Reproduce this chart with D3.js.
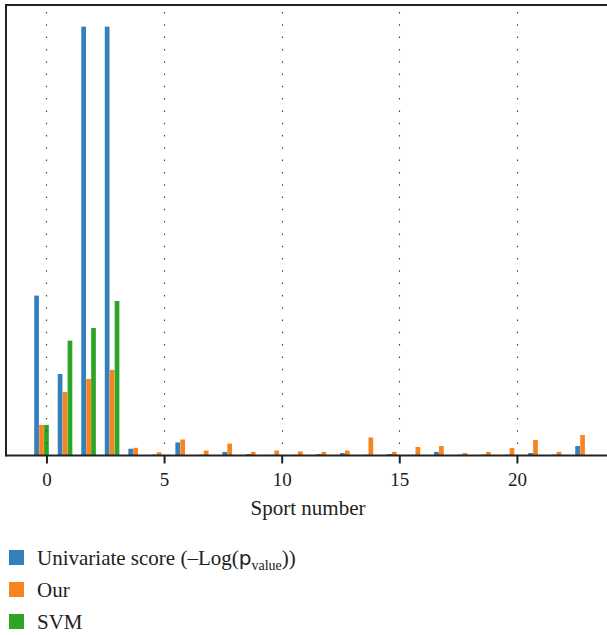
<!DOCTYPE html>
<html>
<head>
<meta charset="utf-8">
<script src="https://cdn.jsdelivr.net/npm/d3@7/dist/d3.min.js"></script>
<style>
  html, body { margin: 0; padding: 0; background: #fff; }
  svg { display: block; }
</style>
</head>
<body>
<svg id="chart" width="607" height="635"></svg>
<script>
// ---- data ----
const categories = d3.range(0, 24);
const univariate = [35.5, 18.1, 95.2, 95.2, 1.5, 0.2, 2.9, 0.2, 0.8, 0.33, 0.15, 0.15,
                    0.33, 0.55, 0.15, 0.33, 0.15, 0.8, 0.2, 0.2, 0.2, 0.55, 0.2, 2.1];
const ours = [6.8, 14.1, 17.0, 19.0, 1.7, 0.7, 3.55, 1.1, 2.65, 0.8, 1.1, 0.9,
              0.8, 1.1, 4.0, 0.8, 1.9, 2.1, 0.55, 0.8, 1.65, 3.45, 0.8, 4.55];
const svm = [6.8, 25.5, 28.3, 34.3, 0, 0, 0, 0, 0, 0, 0, 0,
             0, 0, 0, 0, 0, 0, 0, 0, 0, 0, 0, 0];
const xTicks = [0, 5, 10, 15, 20];
const seriesNames = ["Univariate", "Our", "SVM"];
const colors = ["#3380bd", "#f7841f", "#2ca624"];

// ---- layout ----
(function () {
const svg = d3.select("#chart");
const pLeft = 6, pTop = 5, pBottom = 455.5, pRight = 607;
const x = d3.scaleLinear().domain([-1.72, 23.83]).range([pLeft, pRight]);
const y = d3.scaleLinear().domain([0, 100]).range([pBottom, pTop]);
const barW = 0.2;
const offsets = [-0.42, -0.21, 0.0];
const series = [univariate, ours, svm];

// bars
series.forEach((vals, si) => {
  svg.append("g").selectAll("rect")
    .data(categories.filter((c, i) => vals[i] > 0))
    .join("rect")
    .attr("x", c => x(c + offsets[si] - barW / 2))
    .attr("width", c => x(c + offsets[si] + barW / 2) - x(c + offsets[si] - barW / 2))
    .attr("y", c => y(vals[c]))
    .attr("height", c => y(0) - y(vals[c]))
    .attr("fill", colors[si]);
});

// dotted vertical grid lines (drawn over bars)
svg.append("g").selectAll("line")
  .data(xTicks)
  .join("line")
  .attr("x1", d => Math.round(x(d)) + 0.5)
  .attr("x2", d => Math.round(x(d)) + 0.5)
  .attr("y1", pTop + 2)
  .attr("y2", pBottom)
  .attr("stroke", "#444")
  .attr("stroke-width", 1.2)
  .attr("stroke-dasharray", "1.5,10.8")
  .attr("stroke-dashoffset", -5);

// frame
svg.append("line").attr("x1", pLeft).attr("x2", pRight).attr("y1", pTop).attr("y2", pTop)
  .attr("stroke", "#222").attr("stroke-width", 2);
svg.append("line").attr("x1", pLeft).attr("x2", pLeft).attr("y1", pTop - 1).attr("y2", pBottom + 1)
  .attr("stroke", "#222").attr("stroke-width", 2);

// x axis
const xAxis = d3.axisBottom(x).tickValues(xTicks).tickSize(8).tickPadding(9).tickFormat(d3.format("d"));
const gx = svg.append("g").attr("transform", `translate(0,${pBottom})`).call(xAxis);
gx.select(".domain").remove();
gx.append("line").attr("x1", pLeft).attr("x2", pRight).attr("y1", 0).attr("y2", 0)
  .attr("stroke", "#222").attr("stroke-width", 2);
gx.selectAll(".tick line").attr("stroke", "#222").attr("stroke-width", 2);
gx.selectAll(".tick text")
  .attr("fill", "#222")
  .style("font-family", "'Liberation Serif', 'DejaVu Serif', serif")
  .style("font-size", "19px");

const fontSerif = "'Liberation Serif', 'DejaVu Serif', serif";
svg.append("text")
  .attr("x", 308).attr("y", 515)
  .attr("text-anchor", "middle")
  .attr("fill", "#222")
  .style("font-family", fontSerif)
  .style("font-size", "21px")
  .text("Sport number");

// legend
const legendY = [557.5, 589.5, 621.5];
const lg = svg.append("g");
seriesNames.forEach((name, i) => {
  lg.append("rect").attr("x", 9).attr("y", legendY[i] - 7.5).attr("width", 15).attr("height", 15)
    .attr("fill", colors[i]);
});
const t0 = lg.append("text").attr("x", 37).attr("y", 565).attr("fill", "#222")
  .style("font-family", fontSerif).style("font-size", "21px");
t0.append("tspan").text("Univariate score (\u2013Log(");
t0.append("tspan").style("font-family", "'DejaVu Sans', sans-serif").style("font-size", "20px").text("p");
t0.append("tspan").attr("dy", 5).style("font-size", "14px").text("value");
t0.append("tspan").attr("dy", -5).text("))");
lg.append("text").attr("x", 37).attr("y", 597).attr("fill", "#222")
  .style("font-family", fontSerif).style("font-size", "21px").text("Our");
lg.append("text").attr("x", 37).attr("y", 629).attr("fill", "#222")
  .style("font-family", fontSerif).style("font-size", "21px").text("SVM");
})();
</script>
</body>
</html>
